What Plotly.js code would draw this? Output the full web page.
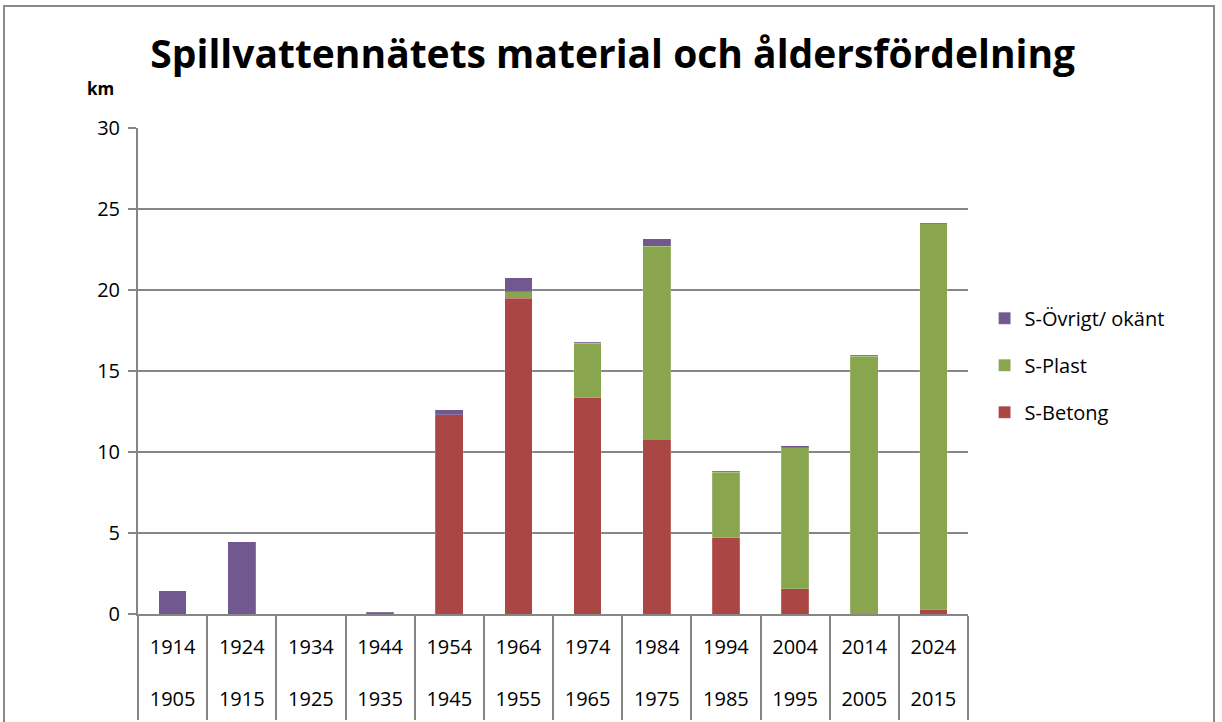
<!DOCTYPE html>
<html>
<head>
<meta charset="utf-8">
<script src="https://cdn.plot.ly/plotly-3.0.1.min.js"></script>
<style>
  html, body { margin: 0; padding: 0; background: #fff; }
  #wrap { position: relative; width: 1222px; height: 722px; overflow: hidden; }
  #chart { position: absolute; left: 0; top: 0; width: 1222px; height: 722px; }
  #frame { position: absolute; left: 3px; top: 5px; width: 1212px; height: 740px;
           border: 2px solid #8a8a8a; pointer-events: none; box-sizing: border-box; }
</style>
</head>
<body>
<div id="wrap">
  <div id="chart"></div>
  <div id="frame"></div>
</div>
<script>
// Period categories (upper year / lower year)
const periodEnd   = ['1914','1924','1934','1944','1954','1964','1974','1984','1994','2004','2014','2024'];
const periodStart = ['1905','1915','1925','1935','1945','1955','1965','1975','1985','1995','2005','2015'];

// km per material
const betong  = [0, 0, 0, 0, 12.3, 19.5, 13.35, 10.8, 4.7, 1.55, 0.05, 0.25];
const plast   = [0, 0, 0, 0, 0, 0.4, 3.35, 11.9, 4.05, 8.7, 15.85, 23.85];
const ovrigt  = [1.45, 4.45, 0, 0.12, 0.3, 0.85, 0.06, 0.47, 0.05, 0.14, 0.07, 0.06];

const yTicks = [0, 5, 10, 15, 20, 25, 30];

const cats = periodEnd.map((e, i) => e + '_' + periodStart[i]);
const tickText = periodEnd.map((e, i) => e + '<br><br>' + periodStart[i]);

const lineCol = '#868686';
const edge = { color: 'rgba(255,255,255,0.35)', width: 0.5 };
const traces = [
  { name: 'S-Betong', legendgroup: 'a', legendrank: 3, x: cats, y: betong, type: 'bar',
    marker: { color: '#AA4643', line: edge } },
  { name: 'S-Plast', legendgroup: 'b', legendrank: 2, x: cats, y: plast, type: 'bar',
    marker: { color: '#89A54E', line: edge } },
  { name: 'S-Övrigt/ okänt', legendgroup: 'c', legendrank: 1, x: cats, y: ovrigt, type: 'bar',
    marker: { color: '#71588F', line: edge } }
];

const layout = {
  width: 1222, height: 722,
  paper_bgcolor: '#ffffff', plot_bgcolor: '#ffffff',
  margin: { l: 138, r: 254, t: 128, b: 108, pad: 0 },
  barmode: 'stack',
  bargap: 0.6,
  font: { family: 'Open Sans, sans-serif', color: '#000' },
  title: {
    text: '<b>Spillvattennätets material och åldersfördelning</b>',
    font: { family: 'Open Sans, sans-serif', size: 39, color: '#000' },
    x: 0.572, xanchor: 'center', xref: 'paper', y: 0.925, yanchor: 'middle'
  },
  xaxis: {
    type: 'category',
    tickmode: 'array', tickvals: cats, ticktext: tickText,
    tickson: 'boundaries', ticks: 'outside', ticklen: 104, tickwidth: 2, tickcolor: lineCol,
    showline: true, linecolor: lineCol, linewidth: 2,
    showgrid: false, zeroline: false,
    tickfont: { size: 20, family: 'Open Sans, sans-serif', color: '#000' },
    ticklabelstandoff: 14,
    tickangle: 0, fixedrange: true
  },
  yaxis: {
    range: [0, 30], tickmode: 'array', tickvals: yTicks,
    ticks: 'outside', ticklen: 8, tickwidth: 2, tickcolor: lineCol,
    showline: true, linecolor: lineCol, linewidth: 2,
    showgrid: true, gridcolor: lineCol, gridwidth: 2,
    zeroline: false,
    tickfont: { size: 20, family: 'Open Sans, sans-serif', color: '#000' },
    ticklabelstandoff: 4, fixedrange: true
  },
  legend: {
    x: 1.02, xanchor: 'left', y: 0.512, yanchor: 'middle',
    traceorder: 'grouped',
    font: { size: 20, family: 'Open Sans, sans-serif', color: '#000' },
    itemwidth: 30, tracegroupgap: 18,
    bgcolor: 'rgba(0,0,0,0)'
  },
  annotations: [
    { text: '<b>km</b>', xref: 'paper', yref: 'paper', x: -0.045, y: 1.082,
      xanchor: 'center', yanchor: 'middle', showarrow: false,
      font: { size: 17, family: 'Open Sans, sans-serif', color: '#000' } }
  ],
  showlegend: true
};

Plotly.newPlot('chart', traces, layout, { displayModeBar: false, staticPlot: true });
</script>
</body>
</html>
